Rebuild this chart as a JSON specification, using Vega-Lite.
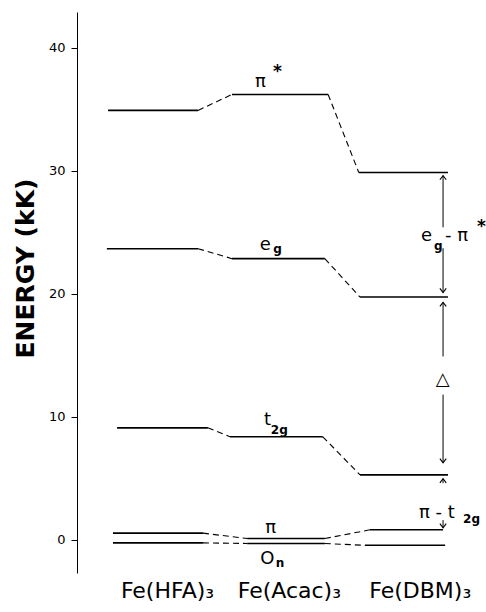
{
  "$schema": "https://vega.github.io/schema/vega-lite/v6.json",
  "width": 409,
  "height": 561,
  "autosize": {"type": "none"},
  "padding": {"left": 77, "top": 12, "right": 0, "bottom": 39},
  "background": "white",
  "config": {"view": {"stroke": null}, "font": "DejaVu Sans"},
  "datasets": {
    "levels": [
      {"level": "pi*", "compound": "HFA", "x": 0.76, "x2": 2.96, "e": 34.9},
      {"level": "pi*", "compound": "Acac", "x": 3.79, "x2": 6.14, "e": 36.2},
      {"level": "pi*", "compound": "DBM", "x": 6.89, "x2": 9.07, "e": 29.85},
      {"level": "eg", "compound": "HFA", "x": 0.73, "x2": 2.96, "e": 23.66},
      {"level": "eg", "compound": "Acac", "x": 3.79, "x2": 6.06, "e": 22.85},
      {"level": "eg", "compound": "DBM", "x": 6.92, "x2": 9.07, "e": 19.73},
      {"level": "t2g", "compound": "HFA", "x": 0.98, "x2": 3.2, "e": 9.1},
      {"level": "t2g", "compound": "Acac", "x": 3.74, "x2": 6.01, "e": 8.37},
      {"level": "t2g", "compound": "DBM", "x": 6.92, "x2": 9.07, "e": 5.28},
      {"level": "pi", "compound": "HFA", "x": 0.88, "x2": 3.08, "e": 0.54},
      {"level": "pi", "compound": "Acac", "x": 4.16, "x2": 6.06, "e": 0.1},
      {"level": "pi", "compound": "DBM", "x": 7.16, "x2": 8.95, "e": 0.81},
      {"level": "On", "compound": "HFA", "x": 0.88, "x2": 3.08, "e": -0.25},
      {"level": "On", "compound": "Acac", "x": 4.16, "x2": 6.06, "e": -0.3},
      {"level": "On", "compound": "DBM", "x": 7.04, "x2": 9.0, "e": -0.45}
    ],
    "links": [
      {"level": "pi*", "x": 2.96, "e": 34.9, "x2": 3.79, "e2": 36.2},
      {"level": "pi*", "x": 6.14, "e": 36.2, "x2": 6.89, "e2": 29.85},
      {"level": "eg", "x": 2.96, "e": 23.66, "x2": 3.79, "e2": 22.85},
      {"level": "eg", "x": 6.06, "e": 22.85, "x2": 6.92, "e2": 19.73},
      {"level": "t2g", "x": 3.2, "e": 9.1, "x2": 3.74, "e2": 8.37},
      {"level": "t2g", "x": 6.01, "e": 8.37, "x2": 6.92, "e2": 5.28},
      {"level": "pi", "x": 3.08, "e": 0.54, "x2": 4.16, "e2": 0.1},
      {"level": "pi", "x": 6.06, "e": 0.1, "x2": 7.16, "e2": 0.81},
      {"level": "On", "x": 3.08, "e": -0.25, "x2": 4.16, "e2": -0.3},
      {"level": "On", "x": 6.06, "e": -0.3, "x2": 7.04, "e2": -0.45}
    ],
    "arrows": [
      {"gap": "eg-pi*", "x": 8.95, "e": 29.6, "e2": 25.4},
      {"gap": "eg-pi*", "x": 8.95, "e": 23.7, "e2": 20.1},
      {"gap": "delta", "x": 8.95, "e": 19.3, "e2": 14.9},
      {"gap": "delta", "x": 8.95, "e": 11.8, "e2": 6.26},
      {"gap": "pi-t2g", "x": 8.95, "e": 4.96, "e2": 4.6},
      {"gap": "pi-t2g", "x": 8.95, "e": 1.6, "e2": 0.98}
    ],
    "heads": [
      {"x": 8.95, "e": 29.6, "dir": "up"},
      {"x": 8.95, "e": 20.1, "dir": "down"},
      {"x": 8.95, "e": 19.3, "dir": "up"},
      {"x": 8.95, "e": 6.26, "dir": "down"},
      {"x": 8.95, "e": 4.96, "dir": "up"},
      {"x": 8.95, "e": 0.98, "dir": "down"}
    ],
    "texts": [
      {"text": "π", "role": "main", "x": 4.35, "e": 37.24},
      {"text": "*", "role": "sup", "x": 4.79, "e": 38.0},
      {"text": "e", "role": "main", "x": 4.47, "e": 24.0},
      {"text": "g", "role": "sub", "x": 4.8, "e": 23.6},
      {"text": "t", "role": "main", "x": 4.57, "e": 9.76},
      {"text": "2g", "role": "sub", "x": 4.74, "e": 8.94},
      {"text": "π", "role": "main", "x": 4.6, "e": 0.98},
      {"text": "O", "role": "main", "x": 4.48, "e": -1.55},
      {"text": "n", "role": "sub", "x": 4.86, "e": -1.85},
      {"text": "e", "role": "main", "x": 8.41, "e": 24.7},
      {"text": "g", "role": "sub", "x": 8.73, "e": 23.9},
      {"text": "- π", "role": "main", "x": 9.0, "e": 24.7},
      {"text": "*", "role": "sup", "x": 9.78, "e": 25.4},
      {"text": "△", "role": "main", "x": 8.77, "e": 13.0},
      {"text": "π - t", "role": "main", "x": 8.36, "e": 2.2},
      {"text": "2g", "role": "sub", "x": 9.44, "e": 1.7}
    ]
  },
  "encoding": {
    "x": {"field": "x", "type": "quantitative", "scale": {"domain": [0, 10], "nice": false, "zero": false},
      "axis": {"values": [2.2, 5.18, 8.38], "title": null, "domain": false, "ticks": false, "grid": false,
        "labelExpr": "datum.value < 3 ? 'Fe(HFA)₃' : datum.value < 7 ? 'Fe(Acac)₃' : 'Fe(DBM)₃'",
        "labelFontSize": 22, "labelColor": "black", "labelPadding": 7, "labelOverlap": false, "labelFlush": false, "labelBound": false}},
    "y": {"field": "e", "type": "quantitative", "scale": {"domain": [-2.7, 42.9], "nice": false, "zero": false},
      "axis": {"values": [0, 10, 20, 30, 40], "title": "ENERGY (kK)", "grid": false,
        "titleFontSize": 25, "titleFontWeight": "bold", "titleColor": "black",
        "titleX": -52, "titleY": 256, "titleAngle": -90, "titleAlign": "center", "titleBaseline": "middle",
        "labelFontSize": 13, "labelColor": "black", "labelPadding": 6, "tickSize": 6,
        "tickColor": "black", "domainColor": "black"}}
  },
  "layer": [
    {
      "data": {"name": "levels"},
      "mark": {"type": "rule", "color": "black", "strokeWidth": 1.6},
      "encoding": {"x2": {"field": "x2"}}
    },
    {
      "data": {"name": "links"},
      "mark": {"type": "rule", "color": "black", "strokeWidth": 1.1, "strokeDash": [6, 4]},
      "encoding": {"x2": {"field": "x2"}, "y2": {"field": "e2"}}
    },
    {
      "data": {"name": "arrows"},
      "mark": {"type": "rule", "color": "black", "strokeWidth": 1},
      "encoding": {"y2": {"field": "e2"}}
    },
    {
      "data": {"name": "heads"},
      "mark": {"type": "point", "filled": false, "stroke": "black", "strokeWidth": 1.1, "size": 40, "opacity": 1},
      "encoding": {
        "shape": {"field": "dir", "type": "nominal", "legend": null,
          "scale": {"domain": ["up", "down"], "range": ["M-1,1.3L0,0L1,1.3", "M-1,-1.3L0,0L1,-1.3"]}}
      }
    },
    {
      "data": {"name": "texts"},
      "transform": [{"filter": "datum.role == 'main'"}],
      "mark": {"type": "text", "align": "left", "baseline": "middle", "fontSize": 18, "color": "black"},
      "encoding": {"text": {"field": "text"}}
    },
    {
      "data": {"name": "texts"},
      "transform": [{"filter": "datum.role == 'sub'"}],
      "mark": {"type": "text", "align": "left", "baseline": "middle", "fontSize": 12, "fontWeight": "bold", "color": "black"},
      "encoding": {"text": {"field": "text"}}
    },
    {
      "data": {"name": "texts"},
      "transform": [{"filter": "datum.role == 'sup'"}],
      "mark": {"type": "text", "align": "left", "baseline": "middle", "fontSize": 17, "fontWeight": "bold", "color": "black"},
      "encoding": {"text": {"field": "text"}}
    }
  ]
}
